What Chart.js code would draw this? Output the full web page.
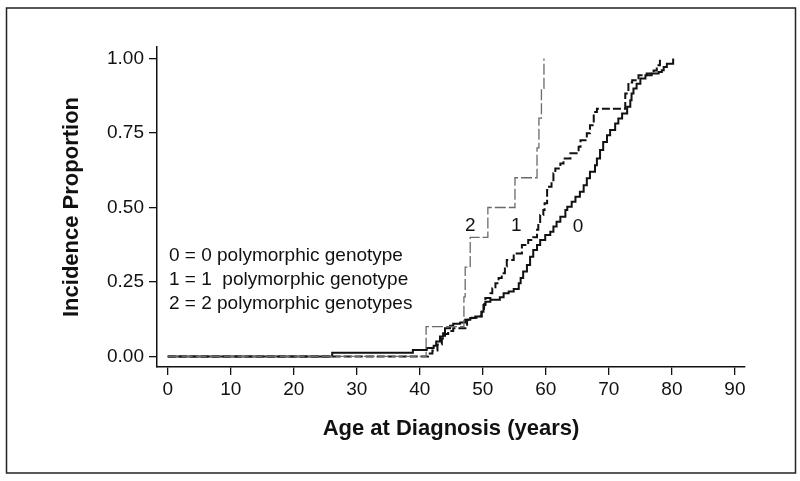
<!DOCTYPE html>
<html>
<head>
    <title>Incidence Proportion by Age</title>
    <script src="https://cdn.jsdelivr.net/npm/chart.js"></script>
    <style>
        body { margin: 0; background: #fff; }
        #wrap { width: 800px; height: 481px; }
    </style>
</head>
<body>
    <div id="wrap"><canvas id="myChart" width="800" height="481"></canvas></div>
    <script>
    // step curves (age, cumulative incidence)
    const ages0 = [0, 26.1, 38.9, 41.1, 42.2, 42.6, 43.2, 43.7, 44.0, 44.8, 45.3, 46.4, 47.2, 48.0, 48.8, 49.8, 50.1, 50.4, 51.2, 52.7, 53.3, 54.1, 54.9, 55.7, 56.0, 56.4, 57.0, 57.5, 58.0, 58.6, 59.1, 59.9, 60.7, 61.2, 61.7, 62.3, 63.1, 63.4, 64.1, 64.7, 65.4, 66.0, 66.5, 67.0, 67.8, 68.1, 68.6, 69.1, 69.7, 70.2, 71.0, 71.5, 72.1, 72.9, 73.4, 73.6, 73.9, 74.4, 75.0, 75.8, 76.8, 77.9, 78.4, 78.7, 79.2, 80.2];
    const inc0  = [0, 0.012, 0.022, 0.028, 0.036, 0.05, 0.067, 0.078, 0.095, 0.103, 0.11, 0.114, 0.123, 0.129, 0.134, 0.15, 0.173, 0.184, 0.19, 0.199, 0.212, 0.218, 0.226, 0.246, 0.263, 0.285, 0.307, 0.335, 0.357, 0.374, 0.391, 0.408, 0.419, 0.436, 0.452, 0.469, 0.492, 0.503, 0.519, 0.536, 0.553, 0.575, 0.598, 0.62, 0.642, 0.665, 0.693, 0.72, 0.743, 0.76, 0.782, 0.799, 0.816, 0.838, 0.86, 0.883, 0.9, 0.916, 0.933, 0.944, 0.95, 0.955, 0.961, 0.972, 0.983, 1.0];

    const ages1 = [0, 41.3, 42.0, 42.8, 43.5, 44.0, 44.5, 45.3, 47.5, 48.2, 49.0, 49.8, 50.2, 50.4, 51.2, 51.5, 52.0, 52.5, 53.0, 53.5, 53.8, 54.9, 56.2, 57.2, 58.0, 58.6, 58.8, 59.1, 59.6, 59.8, 60.2, 60.5, 60.9, 61.2, 61.5, 62.3, 62.8, 63.9, 65.2, 65.5, 66.5, 67.0, 67.6, 68.1, 72.6, 73.1, 73.7, 74.7, 76.0, 77.1, 77.6, 78.1];
    const inc1  = [0, 0.01, 0.02, 0.04, 0.06, 0.075, 0.085, 0.095, 0.123, 0.13, 0.135, 0.15, 0.175, 0.196, 0.212, 0.229, 0.246, 0.263, 0.279, 0.302, 0.324, 0.346, 0.374, 0.391, 0.40, 0.425, 0.447, 0.475, 0.492, 0.514, 0.559, 0.57, 0.586, 0.615, 0.631, 0.648, 0.665, 0.682, 0.704, 0.726, 0.749, 0.776, 0.821, 0.832, 0.883, 0.92, 0.927, 0.944, 0.95, 0.96, 0.978, 1.0];

    const ages2 = [0, 41.0, 47.0, 47.2, 48.0, 50.8, 55.1, 58.6, 58.9, 59.3, 59.7];
    const inc2  = [0, 0.1, 0.2, 0.3, 0.4, 0.5, 0.6, 0.7, 0.8, 0.9, 1.0];

    const xTicks = [0, 10, 20, 30, 40, 50, 60, 70, 80, 90];
    const yTicks = [0, 0.25, 0.5, 0.75, 1.0];

    const curveLabels = ['2', '1', '0'];
    const curveLabelX = [48.0, 55.3, 65.1];
    const curveLabelY = [0.44, 0.44, 0.435];

    const keyLines = ['0 = 0 polymorphic genotype', '1 = 1  polymorphic genotype', '2 = 2 polymorphic genotypes'];
    const keyY = [0.337, 0.259, 0.176];

    const FONT = '"Liberation Sans", Arial, Helvetica, sans-serif';

    function pts(xs, ys) {
        return xs.map((x, i) => ({ x: x, y: ys[i] }));
    }

    const textPlugin = {
        id: 'texts',
        beforeDraw(chart) {
            const ctx = chart.ctx;
            ctx.save();
            ctx.fillStyle = '#fff';
            ctx.fillRect(0, 0, chart.width, chart.height);
            ctx.strokeStyle = '#222';
            ctx.lineWidth = 1.5;
            ctx.strokeRect(6.5, 8, 789, 465);
            ctx.restore();
        },
        afterDraw(chart) {
            const ctx = chart.ctx;
            const xs = chart.scales.x, ys = chart.scales.y;
            ctx.save();
            ctx.fillStyle = '#111';
            ctx.font = '19px ' + FONT;
            ctx.textBaseline = 'middle';
            ctx.textAlign = 'center';
            curveLabels.forEach((t, i) => {
                ctx.fillText(t, xs.getPixelForValue(curveLabelX[i]), ys.getPixelForValue(curveLabelY[i]));
            });
            ctx.textAlign = 'left';
            keyLines.forEach((t, i) => {
                ctx.fillText(t, xs.getPixelForValue(0.2), ys.getPixelForValue(keyY[i]));
            });
            ctx.restore();
        }
    };

    const ctx = document.getElementById('myChart').getContext('2d');
    const myChart = new Chart(ctx, {
        type: 'scatter',
        data: {
            datasets: [
                {
                    label: '2',
                    data: pts(ages2, inc2),
                    showLine: true,
                    stepped: 'before',
                    borderColor: '#6a6a6a',
                    borderWidth: 1.3,
                    borderDash: [11, 3],
                    pointRadius: 0
                },
                {
                    label: '0',
                    data: pts(ages0, inc0),
                    showLine: true,
                    stepped: 'before',
                    borderColor: '#111',
                    borderWidth: 2,
                    pointRadius: 0
                },
                {
                    label: '1',
                    data: pts(ages1, inc1),
                    showLine: true,
                    stepped: 'before',
                    borderColor: '#111',
                    borderWidth: 2,
                    borderDash: [8, 3],
                    pointRadius: 0
                }
            ]
        },
        options: {
            responsive: false,
            animation: false,
            layout: { padding: { left: 0, right: 55, top: 47, bottom: 0 } },
            plugins: { legend: { display: false }, tooltip: { enabled: false } },
            scales: {
                x: {
                    type: 'linear',
                    min: -1.7,
                    max: 91.6,
                    afterBuildTicks: s => { s.ticks = xTicks.map(v => ({ value: v })); },
                    afterFit: s => { s.height = 114; },
                    grid: { drawOnChartArea: false, color: '#111', tickLength: 8, lineWidth: 1.3 },
                    border: { color: '#111', width: 1.5 },
                    ticks: { color: '#111', font: { family: FONT, size: 19 }, padding: 3, maxRotation: 0 },
                    title: {
                        display: true,
                        text: 'Age at Diagnosis (years)',
                        color: '#111',
                        font: { family: FONT, size: 22, weight: 'bold' },
                        padding: { bottom: 39 }
                    }
                },
                y: {
                    type: 'linear',
                    min: -0.0355,
                    max: 1.039,
                    afterBuildTicks: s => { s.ticks = yTicks.map(v => ({ value: v })); },
                    afterFit: s => { s.width = 157; },
                    grid: { drawOnChartArea: false, color: '#111', tickLength: 8, lineWidth: 1.3 },
                    border: { color: '#111', width: 1.5 },
                    ticks: { color: '#111', font: { family: FONT, size: 19 }, padding: 5, callback: v => v.toFixed(2) },
                    title: {
                        display: true,
                        text: 'Incidence Proportion',
                        color: '#111',
                        font: { family: FONT, size: 22, weight: 'bold' },
                        padding: { top: 59 }
                    }
                }
            }
        },
        plugins: [textPlugin]
    });
    </script>
</body>
</html>
